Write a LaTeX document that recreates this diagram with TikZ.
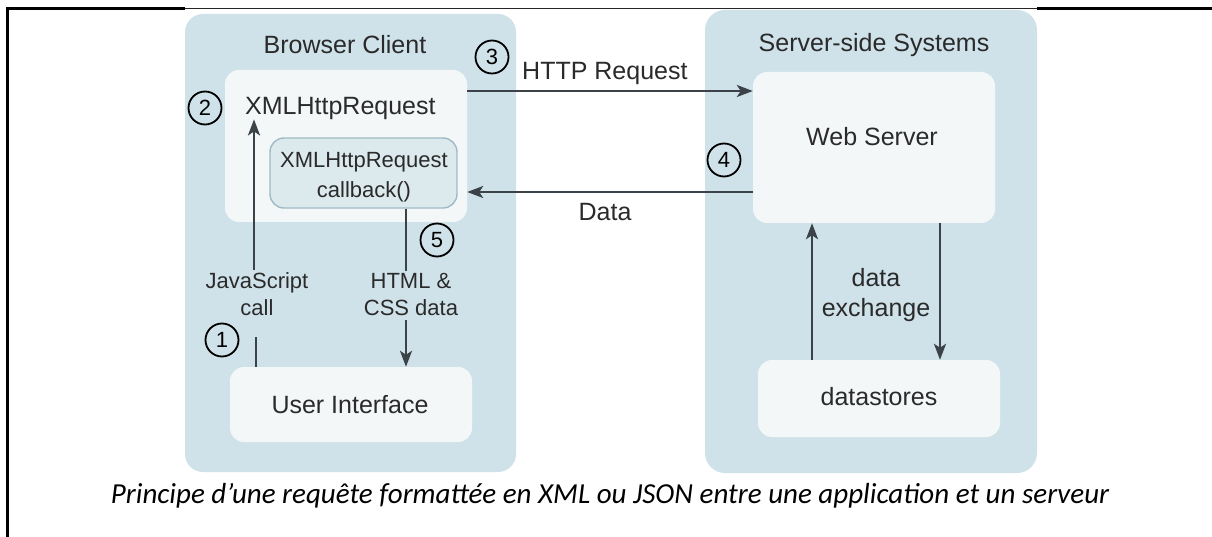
\documentclass[tikz,border=0pt]{standalone}
\usepackage{fontspec}
\setmainfont{Liberation Sans}
\newfontfamily\capfont{Carlito}
\usetikzlibrary{arrows.meta}
\definecolor{panelc}{HTML}{CFE2E9}
\definecolor{boxc}{HTML}{F4F7F8}
\definecolor{cbfill}{HTML}{DCEAEE}
\definecolor{cbdraw}{HTML}{9EBBC5}
\definecolor{arrowc}{HTML}{3C4348}
\definecolor{txtc}{HTML}{2A2A2A}
\begin{document}
\begin{tikzpicture}[x=1pt,y=-1pt,
  wbox/.style={fill=boxc, rounded corners=14pt, inner sep=0pt},
  cbbox/.style={fill=cbfill, draw=cbdraw, line width=1.4pt, rounded corners=14pt, inner sep=0pt},
  big/.style={font=\fontsize{25}{30}\selectfont, text=txtc, inner sep=0pt},
  lbl/.style={font=\fontsize{22}{27}\selectfont, text=txtc, align=center, inner sep=2pt},
  num/.style={circle, draw=black, line width=1.8pt, minimum size=33pt, inner sep=0pt, font=\fontsize{22}{22}\selectfont},
  arr/.style={draw=arrowc, line width=2.6pt, -{Stealth[length=16pt,width=12pt,inset=4pt]}},
  plain/.style={draw=arrowc, line width=2.6pt}]
\useasboundingbox (0,0) rectangle (1212,537);
\fill[white] (0,0) rectangle (1212,537);
% page frame
\draw[black, line width=2.6pt] (7.5,537) -- (7.5,8.5) -- (185,8.5);
\draw[black!85, line width=1.4pt] (185,8.5) -- (1037,8.5);
\draw[black, line width=2.6pt] (1037,8.5) -- (1212,8.5);
% panels
\node[fill=panelc, rounded corners=18pt, minimum width=331pt, minimum height=458pt, inner sep=0pt] (client) at (350.5,243) {};
\node[fill=panelc, rounded corners=20pt, minimum width=332pt, minimum height=463pt, inner sep=0pt] (server) at (871,241.5) {};
\node[big] (clientT) at (345,45) {Browser Client};
\node[big] (serverT) at (874,45) {Server-side Systems};
% boxes
\node[wbox, minimum width=242pt, minimum height=152pt] (inner) at (346,146) {};
\node[cbbox, minimum width=187pt, minimum height=70pt] (cb) at (363.5,173) {};
\node[lbl, font=\fontsize{22}{30}\selectfont, inner sep=0pt] (cbT) at (364,177) {XMLHttpRequest\\callback()};
\node[big, anchor=west] (xhr) at (245,108) {XMLHttpRequest};
\node[wbox, minimum width=242pt, minimum height=75pt] (ui) at (351,404.5) {};
\node[big] (uiT) at (350,405) {User Interface};
\node[wbox, minimum width=242pt, minimum height=151pt] (web) at (874,147.5) {};
\node[big] (webT) at (872,137) {Web Server};
\node[wbox, minimum width=242pt, minimum height=77pt] (ds) at (879,398.5) {};
\node[big] (dsT) at (879,397) {datastores};
% numbers
\node[num] (n1) at (222,340) {1};
\node[num] (n2) at (205,108) {2};
\node[num] (n3) at (492,57) {3};
\node[num] (n4) at (724,160) {4};
\node[num] (n5) at (437,240) {5};
% labels
\node[big, anchor=west] (httpT) at (522,73) {HTTP Request};
\node[big] (dataT) at (605,212) {Data};
\node[lbl] (jsT) at (257,294) {JavaScript\\call};
\node[lbl] (htmlT) at (411,294) {HTML \&\\CSS data};
\node[big, align=center, font=\fontsize{25}{30}\selectfont] (dxT) at (876,295) {data\\exchange};
% connector coordinates
\coordinate (hy) at (0,91);
\coordinate (dy) at (0,192);
\coordinate (jsx) at (254,0);
\coordinate (stub) at (256,337);
\coordinate (hx) at (406,0);
\coordinate (upx) at (812,0);
\coordinate (dnx) at (940,0);
% connectors
\draw[arr] (inner.east |- hy) -- (web.west |- hy);
\draw[arr] (web.west |- dy) -- (inner.east |- dy);
\draw[arr] (jsT.north -| jsx) -- (xhr.south -| jsx);
\draw[plain] (stub) -- (ui.north -| stub);
\draw[plain] (cb.south -| hx) -- (htmlT.north -| hx);
\draw[arr] ([yshift=-3pt]htmlT.south -| hx) -- (ui.north -| hx);
\draw[arr] (ds.north -| upx) -- (web.south -| upx);
\draw[arr] (web.south -| dnx) -- (ds.north -| dnx);
% caption
\node[font=\capfont\itshape\fontsize{29}{33}\selectfont, text=black, anchor=base, inner sep=0pt] (cap) at (610,503) {Principe d’une requête formattée en XML ou JSON entre une application et un serveur};
\end{tikzpicture}
\end{document}
